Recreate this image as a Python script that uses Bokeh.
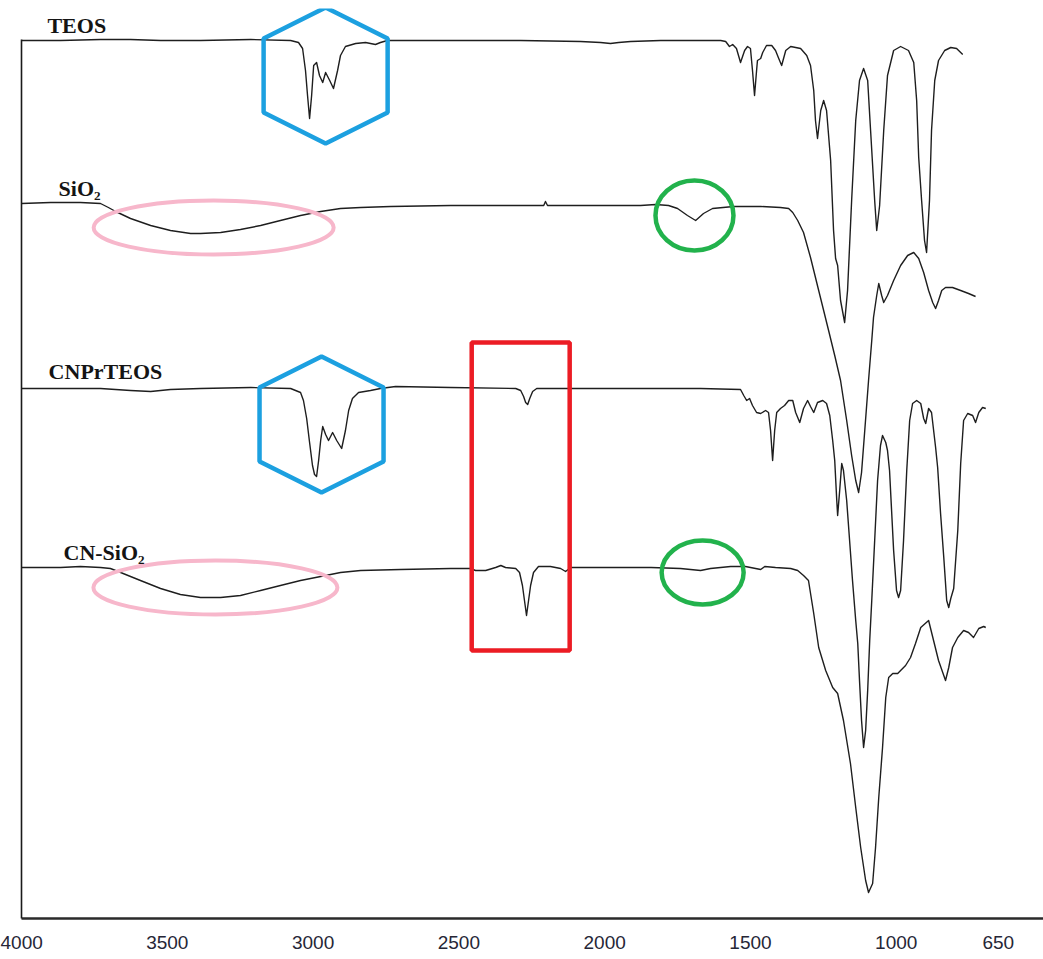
from bokeh.plotting import figure
from bokeh.models import Range1d, FixedTicker
from bokeh.core.properties import value
from bokeh.embed import file_html
from bokeh.resources import INLINE

# ---------------- data (wavenumber cm-1, transmittance a.u.) ----------------
teos_wn = [4000, 3866, 3729, 3626, 3523, 3386, 3214, 3077, 3050, 3036, 3026, 3019, 3012, 3005, 2998,
           2988, 2978, 2967, 2957, 2943, 2930, 2916, 2906, 2889, 2854, 2820, 2786, 2769, 2745, 2528,
           2288, 2083, 2014, 1980, 1952, 1911, 1808, 1671, 1602, 1585, 1572, 1561, 1548, 1534, 1520,
           1510, 1500, 1493, 1486, 1479, 1476, 1465, 1458, 1445, 1427, 1414, 1403, 1393, 1379, 1362,
           1328, 1307, 1294, 1283, 1277, 1270, 1259, 1249, 1239, 1225, 1215, 1208, 1201, 1191, 1177,
           1167, 1153, 1139, 1126, 1112, 1098, 1088, 1074, 1067, 1057, 1043, 1030, 1009, 985, 958,
           940, 930, 923, 913, 903, 896, 886, 879, 868, 855, 834, 813, 793, 772]
teos_t = [87.8, 87.8, 87.9, 87.9, 87.8, 87.8, 87.9, 87.8, 87.6, 87.0, 84.8, 82.3, 80.0, 82.3, 85.3,
          85.6, 84.3, 83.6, 84.6, 83.8, 83.0, 84.8, 86.3, 87.2, 87.5, 87.6, 87.4, 87.6, 87.8, 87.8,
          87.8, 87.7, 87.6, 87.5, 87.6, 87.7, 87.8, 87.8, 87.8, 87.7, 87.2, 87.4, 87.0, 85.6, 86.8,
          87.2, 87.0, 84.8, 82.3, 84.8, 85.8, 86.0, 86.6, 87.3, 87.3, 86.8, 86.0, 85.3, 86.8, 87.2,
          87.0, 86.3, 85.3, 82.8, 79.8, 78.0, 80.8, 81.8, 80.8, 75.8, 68.8, 66.0, 65.3, 61.8, 59.6,
          62.8, 71.8, 79.8, 83.8, 85.0, 83.8, 78.8, 71.8, 68.8, 71.3, 78.8, 84.3, 86.8, 87.2, 86.8,
          85.6, 81.8, 76.1, 71.8, 67.8, 66.6, 71.8, 78.8, 83.8, 85.8, 86.8, 87.1, 87.0, 86.4]

sio2_wn = [4000, 3900, 3798, 3729, 3702, 3677, 3626, 3557, 3489, 3420, 3386, 3317, 3249, 3180, 3112,
           3043, 2974, 2906, 2837, 2734, 2528, 2288, 2209, 2203, 2196, 2014, 1877, 1825, 1781, 1750,
           1716, 1688, 1661, 1630, 1558, 1465, 1397, 1369, 1355, 1338, 1318, 1294, 1266, 1232, 1211,
           1191, 1170, 1153, 1139, 1129, 1119, 1108, 1095, 1084, 1078, 1067, 1060, 1050, 1043, 1030,
           1009, 985, 961, 940, 923, 906, 889, 875, 865, 855, 844, 831, 807, 779, 752, 728]
sio2_t = [71.5, 71.6, 71.6, 71.5, 71.1, 70.7, 70.0, 69.3, 68.8, 68.5, 68.5, 68.6, 68.9, 69.3, 69.8,
          70.3, 70.7, 71.0, 71.1, 71.2, 71.3, 71.3, 71.3, 71.7, 71.3, 71.3, 71.3, 71.4, 71.3, 71.0,
          70.3, 69.8, 70.5, 71.0, 71.2, 71.2, 71.1, 71.0, 70.6, 69.8, 68.6, 66.1, 62.8, 58.8, 56.3,
          53.8, 49.8, 46.3, 43.8, 42.6, 44.6, 48.8, 53.8, 57.8, 60.1, 62.3, 63.5, 62.3, 61.6, 62.3,
          63.8, 65.3, 66.3, 66.6, 66.0, 64.6, 62.8, 61.6, 61.0, 61.8, 62.8, 63.1, 63.1, 62.8, 62.5, 62.2]

cnpr_wn = [4000, 3866, 3729, 3626, 3557, 3489, 3386, 3214, 3077, 3043, 3033, 3022, 3012, 3002, 2995,
           2988, 2981, 2974, 2967, 2957, 2947, 2933, 2919, 2902, 2889, 2878, 2865, 2844, 2803, 2769,
           2717, 2528, 2305, 2288, 2278, 2271, 2264, 2257, 2247, 2233, 2014, 1808, 1671, 1534, 1523,
           1513, 1503, 1493, 1479, 1465, 1448, 1438, 1431, 1424, 1417, 1410, 1397, 1383, 1369, 1355,
           1345, 1331, 1318, 1304, 1294, 1283, 1270, 1252, 1239, 1228, 1218, 1211, 1204, 1201, 1194,
           1187, 1181, 1170, 1160, 1150, 1139, 1132, 1126, 1119, 1112, 1105, 1098, 1091, 1084, 1074,
           1064, 1054, 1047, 1036, 1030, 1023, 1016, 1009, 999, 992, 985, 975, 964, 954, 944,
           930, 916, 906, 899, 889, 879, 865, 858, 848, 837, 827, 820, 813, 803, 789,
           779, 769, 755, 738, 728, 717, 704, 693]
cnpr_t = [53.0, 53.0, 53.0, 52.8, 52.7, 52.9, 53.0, 53.1, 53.0, 52.6, 51.8, 50.0, 47.6, 45.3, 44.4,
          44.2, 45.8, 47.8, 49.2, 48.4, 47.8, 48.6, 47.8, 47.0, 48.8, 50.8, 52.0, 52.6, 52.8, 53.0,
          53.2, 53.1, 53.0, 52.8, 52.2, 51.6, 51.4, 52.0, 52.7, 53.0, 53.0, 53.0, 53.0, 52.9, 52.3,
          51.8, 52.0, 51.3, 50.6, 50.5, 50.8, 50.6, 48.8, 45.8, 48.8, 50.6, 51.0, 51.3, 51.8, 51.8,
          50.6, 49.6, 51.0, 51.8, 51.2, 50.6, 51.6, 51.8, 51.5, 50.3, 47.8, 45.8, 41.8, 40.3, 42.8,
          45.5, 44.8, 41.8, 37.8, 33.8, 29.8, 27.5, 23.8, 19.8, 17.1, 18.8, 22.8, 27.8, 31.8, 37.8,
          43.8, 47.3, 48.3, 47.6, 46.8, 44.8, 40.8, 36.8, 32.8, 32.1, 32.8, 37.8, 44.8, 49.8, 51.5,
          51.8, 51.5, 50.0, 49.5, 51.0, 50.6, 47.1, 45.1, 40.5, 36.1, 31.8, 31.1, 32.0, 33.0, 38.8,
          45.5, 49.8, 50.5, 50.3, 49.6, 50.6, 51.1, 51.0]

cnsi_wn = [4000, 3866, 3798, 3729, 3695, 3660, 3592, 3523, 3455, 3386, 3317, 3249, 3180, 3112, 3043,
           2974, 2906, 2837, 2700, 2528, 2460, 2443, 2408, 2374, 2356, 2340, 2305, 2292, 2282, 2275,
           2268, 2261, 2254, 2244, 2227, 2186, 2151, 2134, 2117, 2014, 1841, 1740, 1671, 1637, 1568,
           1517, 1465, 1451, 1414, 1362, 1338, 1318, 1301, 1283, 1266, 1242, 1218, 1201, 1181, 1157,
           1139, 1122, 1105, 1095, 1081, 1071, 1060, 1047, 1036, 1026, 1012, 995, 985, 968, 951,
           934, 916, 889, 872, 855, 831, 820, 807, 789, 769, 752, 735, 717, 700, 693]
cnsi_t = [35.1, 35.1, 35.2, 35.1, 35.0, 34.6, 33.8, 33.0, 32.4, 32.1, 32.1, 32.3, 32.8, 33.3, 33.8,
          34.2, 34.6, 34.8, 34.9, 35.0, 35.0, 34.8, 34.8, 35.1, 35.3, 35.1, 35.0, 34.6, 33.3, 31.8,
          30.3, 31.8, 33.3, 34.6, 35.2, 35.2, 35.0, 34.7, 35.1, 35.1, 35.1, 35.0, 34.8, 35.0, 35.2,
          35.2, 34.9, 35.2, 35.1, 35.0, 34.8, 34.3, 33.8, 30.5, 27.1, 24.8, 23.1, 22.5, 19.8, 15.5,
          11.1, 7.1, 3.8, 2.6, 3.5, 7.1, 12.1, 17.1, 22.1, 24.1, 24.5, 24.5, 24.8, 25.3, 26.1,
          27.5, 29.1, 29.8, 27.8, 25.8, 23.8, 25.1, 27.1, 28.1, 28.8, 28.6, 28.1, 29.0, 29.2, 29.1]

tick_values = [4000, 3500, 3000, 2500, 2000, 1500, 1000, 650]
series_names = ["TEOS", "SiO\u2082", "CNPrTEOS", "CN-SiO\u2082"]

# ---------------- figure ----------------
p = figure(width=1043, height=959, x_range=Range1d(4000, 495), y_range=Range1d(0, 91),
           output_backend="svg", toolbar_location=None,
           min_border_left=21, min_border_right=0, min_border_top=8, min_border_bottom=41)
p.grid.visible = False
p.outline_line_color = None
p.background_fill_color = "white"
p.border_fill_color = "white"

xa = p.xaxis[0]
xa.ticker = FixedTicker(ticks=tick_values)
xa.major_tick_line_color = None
xa.minor_tick_line_color = None
xa.major_tick_out = 0
xa.major_tick_in = 0
xa.minor_tick_out = 0
xa.minor_tick_in = 0
xa.axis_line_width = 2.5
xa.axis_line_color = "#2a2a2a"
xa.major_label_standoff = 17
xa.major_label_text_font = "Liberation Sans"
xa.major_label_text_font_size = "19px"
xa.major_label_text_color = "#262636"

ya = p.yaxis[0]
ya.bounds = (0, 87.9)
ya.ticker = FixedTicker(ticks=[])
ya.major_tick_out = 0
ya.major_tick_in = 0
ya.minor_tick_out = 0
ya.minor_tick_in = 0
ya.major_label_standoff = 0
ya.major_label_text_font_size = "0px"
ya.axis_line_width = 1.6
ya.axis_line_color = "#1a1a1a"

line_color = "#1e1e1e"
for wn, t in [(teos_wn, teos_t), (sio2_wn, sio2_t), (cnpr_wn, cnpr_t), (cnsi_wn, cnsi_t)]:
    p.line(wn, t, line_color=line_color, line_width=1.4, line_join="round")

# ---------------- highlight shapes ----------------
PX_X = 3.43   # cm-1 per screen pixel
PX_Y = 0.1    # a.u. per screen pixel


def hexagon(cx, cy, hw, hh, sh):
    dx = [0, hw, hw, 0, -hw, -hw]
    dy = [hh, sh, -sh, -hh, -sh, sh]
    return [cx - d * PX_X for d in dx], [cy + d * PX_Y for d in dy]


blue = "#1ca0e0"
for cx, cy in [(2957, 84.3), (2971, 49.4)]:
    hx, hy = hexagon(cx, cy, 62, 68, 37)
    p.patch(hx, hy, fill_color=None, line_color=blue, line_width=4.5)

pink = "#f7b7cb"
green = "#22b24c"
p.ellipse(x=[3341, 3335], y=[69.1, 33.1], width=[240, 244], height=[54, 54],
          width_units="screen", height_units="screen",
          fill_color=None, line_color=pink, line_width=4)
p.ellipse(x=[1692, 1664], y=[70.3, 34.6], width=[78, 82], height=[70, 64],
          width_units="screen", height_units="screen",
          fill_color=None, line_color=green, line_width=4.5)
p.quad(left=[2456], right=[2120], top=[57.6], bottom=[26.8],
       fill_color=None, line_color="#ec1c24", line_width=4.5)

# ---------------- series labels ----------------
p.text(x=[3911, 3873, 3907, 3856], y=[89.3, 73.0, 54.7, 36.6], text=series_names,
       text_font=value("Liberation Serif"), text_font_style="bold", text_font_size="22px",
       text_color="#141414", text_align="left", text_baseline="alphabetic")

open("out.html", "w").write(file_html(p, INLINE))
